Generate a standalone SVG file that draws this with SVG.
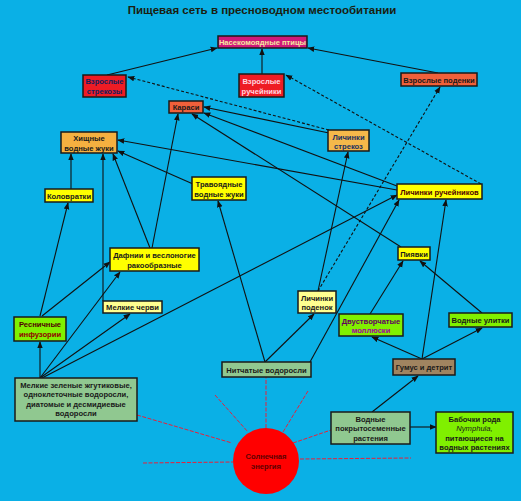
<svg xmlns="http://www.w3.org/2000/svg" width="521" height="501" viewBox="0 0 521 501">
<defs>
<marker id="ah" viewBox="0 0 10 10" refX="9" refY="5" markerWidth="7" markerHeight="7" markerUnits="userSpaceOnUse" orient="auto">
<path d="M0,1 L10,5 L0,9 z" fill="#111"/>
</marker>
<style>
.bx{stroke:#1a1a1a;stroke-width:1.5}
.t{font-family:"Liberation Sans",Arial,sans-serif;font-weight:bold;font-size:7.6px;text-anchor:middle;fill:#1a1a1a}
.c line{stroke:#111;stroke-width:1.1;marker-end:url(#ah)}
.c line.d{stroke-dasharray:3,2}
.ray line{stroke:#e8203a;stroke-width:1;stroke-dasharray:4,1.5}
</style>
</defs>
<rect x="0" y="0" width="521" height="501" fill="#0ab0e6"/>
<text x="262" y="14" style="font-family:'Liberation Sans',Arial,sans-serif;font-weight:bold;font-size:11.5px;text-anchor:middle;fill:#1a2010">Пищевая сеть в пресноводном местообитании</text>

<g class="ray">
<line x1="266" y1="428" x2="266" y2="377"/>
<line x1="215" y1="395" x2="248" y2="432"/>
<line x1="308" y1="391" x2="283" y2="432"/>
<line x1="137" y1="415" x2="232" y2="443"/>
<line x1="293" y1="443" x2="331" y2="430"/>
<line x1="143" y1="463" x2="233" y2="462"/>
<line x1="300" y1="459" x2="411" y2="458"/>
</g>

<g id="connectors" class="c">
<line x1="107" y1="75" x2="217" y2="48"/>
<line x1="262" y1="74" x2="262" y2="49"/>
<line x1="438" y1="73" x2="308" y2="48"/>
<line class="d" x1="329" y1="130" x2="128" y2="77"/>
<line class="d" x1="481" y1="184" x2="286" y2="75"/>
<line class="d" x1="318" y1="291" x2="440" y2="87"/>
<line x1="152" y1="248" x2="178" y2="114"/>
<line x1="329" y1="133" x2="204" y2="107"/>
<line x1="397" y1="186" x2="204" y2="113"/>
<line x1="401" y1="247" x2="192" y2="114"/>
<line x1="71" y1="189" x2="71" y2="154"/>
<line x1="103" y1="301" x2="103" y2="154"/>
<line x1="150" y1="248" x2="113" y2="154"/>
<line x1="193" y1="184" x2="118" y2="151"/>
<line x1="397" y1="190" x2="118" y2="140"/>
<line x1="40" y1="316" x2="68" y2="203"/>
<line x1="42" y1="316" x2="110" y2="262"/>
<line x1="40" y1="378" x2="40" y2="342"/>
<line x1="40" y1="378" x2="120" y2="272"/>
<line x1="40" y1="378" x2="130" y2="314"/>
<line x1="42" y1="378" x2="397" y2="195"/>
<line x1="265" y1="362" x2="218" y2="201"/>
<line x1="265" y1="362" x2="314" y2="314"/>
<line x1="310" y1="362" x2="399" y2="200"/>
<line x1="318" y1="291" x2="348" y2="152"/>
<line x1="422" y1="359" x2="446" y2="200"/>
<line x1="422" y1="359" x2="372" y2="337"/>
<line x1="422" y1="359" x2="482" y2="328"/>
<line x1="370" y1="314" x2="403" y2="261"/>
<line x1="482" y1="313" x2="420" y2="261"/>
<line x1="372" y1="412" x2="418" y2="376"/>
<line x1="410" y1="427" x2="436" y2="427"/>
</g>

<g id="birds"><rect class="bx" x="218" y="36" width="89" height="12" fill="#d0187a"/><text class="t" x="262.5" y="45" style="fill:#f4e8a0">Насекомоядные птицы</text></g>
<g id="adult-dragonflies"><rect class="bx" x="83" y="75" width="43" height="22" fill="#ee1c24"/><text class="t" x="104.5" y="84" style="fill:#102060">Взрослые</text><text class="t" x="104.5" y="94" style="fill:#102060">стрекозы</text></g>
<g id="adult-caddisflies"><rect class="bx" x="239" y="74" width="45" height="23" fill="#ee1c24"/><text class="t" x="261.5" y="84" style="fill:#ffd8e0">Взрослые</text><text class="t" x="261.5" y="94" style="fill:#ffd8e0">ручейники</text></g>
<g id="adult-mayflies"><rect class="bx" x="401" y="73" width="76" height="13" fill="#f0603a"/><text class="t" x="439" y="82.5">Взрослые поденки</text></g>
<g id="crucian"><rect class="bx" x="169" y="101" width="34" height="12" fill="#f0603a"/><text class="t" x="186" y="110">Караси</text></g>
<g id="predatory-beetles"><rect class="bx" x="61" y="132" width="56" height="21" fill="#f5b040"/><text class="t" x="89" y="141">Хищные</text><text class="t" x="89" y="150.5">водные жуки</text></g>
<g id="rotifers"><rect class="bx" x="45" y="189" width="48" height="13" fill="#ffff00"/><text class="t" x="69" y="198.5">Коловратки</text></g>
<g id="herbivorous-beetles"><rect class="bx" x="192" y="177" width="54" height="23" fill="#ffff00"/><text class="t" x="219" y="187">Травоядные</text><text class="t" x="219" y="196.5">водные жуки</text></g>
<g id="daphnia"><rect class="bx" x="110" y="248" width="89" height="23" fill="#ffff00"/><text class="t" x="154.5" y="258">Дафнии и веслоногие</text><text class="t" x="154.5" y="267.5">ракообразные</text></g>
<g id="dragonfly-larvae"><rect class="bx" x="328" y="130" width="41" height="21" fill="#f5b84a"/><text class="t" x="348.5" y="139.5" style="fill:#203060">Личинки</text><text class="t" x="348.5" y="149" style="fill:#203060">стрекоз</text></g>
<g id="caddis-larvae"><rect class="bx" x="397" y="184" width="85" height="15" fill="#ffff00"/><text class="t" x="439.5" y="194.5" style="fill:#500000">Личинки ручейников</text></g>
<g id="leeches"><rect class="bx" x="398" y="247" width="32" height="13" fill="#ffff00"/><text class="t" x="414" y="256.5">Пиявки</text></g>
<g id="worms"><rect class="bx" x="103" y="301" width="59" height="12" fill="#ffff90"/><text class="t" x="132.5" y="310">Мелкие черви</text></g>
<g id="ciliates"><rect class="bx" x="14" y="317" width="52" height="24" fill="#80f000"/><text class="t" x="40" y="327" style="fill:#500000">Ресничные</text><text class="t" x="40" y="337" style="fill:#900000">инфузории</text></g>
<g id="small-algae"><rect class="bx" x="15" y="378" width="122" height="43" fill="#90c890"/><text class="t" x="76" y="387.5">Мелкие  зеленые жгутиковые,</text><text class="t" x="76" y="397">одноклеточные водоросли,</text><text class="t" x="76" y="406.5">диатомые и десмидиевые</text><text class="t" x="76" y="416">водоросли</text></g>
<g id="filamentous-algae"><rect class="bx" x="222" y="362" width="89" height="15" fill="#90c890"/><text class="t" x="266.5" y="372.5">Нитчатые водоросли</text></g>
<g id="mayfly-larvae"><rect class="bx" x="298" y="291" width="38" height="22" fill="#ffff90"/><text class="t" x="317" y="300.5">Личинки</text><text class="t" x="317" y="310">поденок</text></g>
<g id="bivalves"><rect class="bx" x="339" y="314" width="64" height="22" fill="#80f000"/><text class="t" x="371" y="323.5" style="fill:#600060">Двустворчатые</text><text class="t" x="371" y="333" style="fill:#a000a0">моллюски</text></g>
<g id="snails"><rect class="bx" x="449" y="313" width="63" height="14" fill="#80f000"/><text class="t" x="480.5" y="323">Водные улитки</text></g>
<g id="humus"><rect class="bx" x="393" y="359" width="62" height="16" fill="#a08460"/><text class="t" x="424" y="370">Гумус и детрит</text></g>
<g id="angiosperms"><rect class="bx" x="331" y="412" width="79" height="32" fill="#90c890"/><text class="t" x="370.5" y="421.5">Водные</text><text class="t" x="370.5" y="431">покрытосеменные</text><text class="t" x="370.5" y="440.5">растения</text></g>
<g id="moths"><rect class="bx" x="436" y="412" width="77" height="41" fill="#80f000"/><text class="t" x="474.5" y="421.5">Бабочки рода</text><text class="t" x="474.5" y="431" style="font-style:italic;font-weight:normal">Nymphula,</text><text class="t" x="474.5" y="440.5">питающиеся на</text><text class="t" x="474.5" y="450">водных растениях</text></g>
<g id="sun"><circle cx="266" cy="461" r="33" fill="#ff0000"/><text class="t" x="266" y="459" style="fill:#600000">Солнечная</text><text class="t" x="266" y="469" style="fill:#600000">энергия</text></g>
</svg>
